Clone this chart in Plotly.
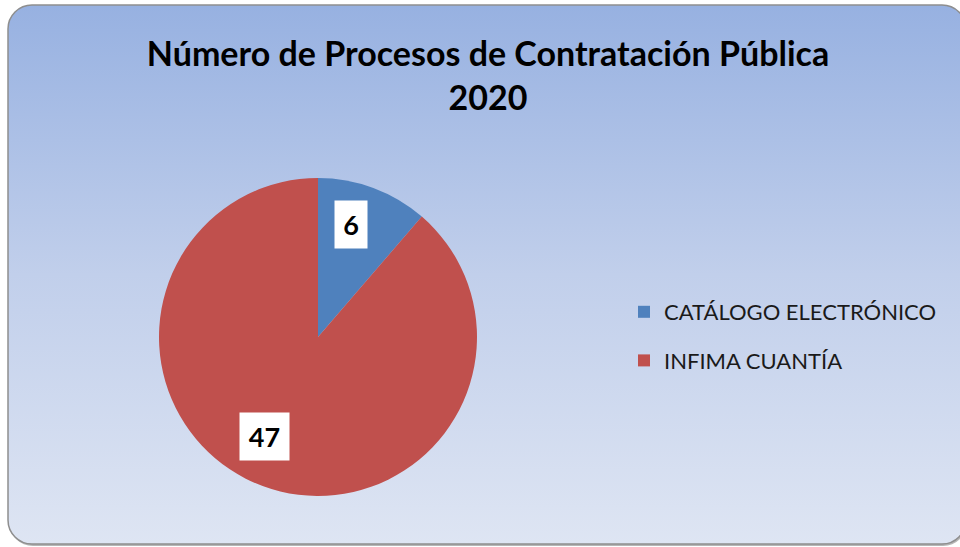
import base64, math
import plotly.graph_objects as go

categories = ["CATÁLOGO ELECTRÓNICO", "INFIMA CUANTÍA"]
values = [6, 47]
colors = ["#4F81BD", "#C0504D"]
title_lines = ["Número de Procesos de Contratación Pública", "2020"]

W, H = 960, 547

svg = f'''<svg xmlns="http://www.w3.org/2000/svg" width="{W}" height="{H}" viewBox="0 0 {W} {H}">
<defs>
<linearGradient id="g" x1="0" y1="0" x2="0" y2="1">
<stop offset="0" stop-color="#97B1E1"/>
<stop offset="0.5" stop-color="#C1CFEB"/>
<stop offset="1" stop-color="#DEE5F3"/>
</linearGradient>
</defs>
<rect x="0" y="0" width="{W}" height="{H}" fill="#ffffff"/>
<rect x="9" y="7" width="958" height="539" rx="24" ry="24" fill="#7a7a7a" opacity="0.55"/>
<rect x="8" y="5" width="958" height="539" rx="24" ry="24" fill="url(#g)" stroke="#8e8e8e" stroke-width="1.5"/>
</svg>'''
src = "data:image/svg+xml;base64," + base64.b64encode(svg.encode()).decode()

# pie geometry (pixels)
pcx, pcy, R = 318, 337, 159
dom_x = [(pcx - R) / W, (pcx + R) / W]
dom_y = [(H - pcy - R) / H, (H - pcy + R) / H]

fig = go.Figure()
fig.add_trace(go.Pie(
    labels=categories,
    values=values,
    marker=dict(colors=colors, line=dict(width=0)),
    sort=False, direction="clockwise", rotation=0,
    textinfo="none", hoverinfo="label+value",
    domain=dict(x=dom_x, y=dom_y),
    showlegend=False,
))

# legend entries (one per category, own group so spacing can be set)
for cat, col in zip(categories, colors):
    fig.add_trace(go.Scatter(
        x=[None], y=[None], mode="markers", name=cat, legendgroup=cat,
        marker=dict(symbol="square", size=12, color=col), hoverinfo="skip",
    ))

# data labels placed from the slice mid-angles
total = sum(values)
cum = 0
cxp = (dom_x[0] + dom_x[1]) / 2
cyp = (dom_y[0] + dom_y[1]) / 2
angle_shift = [-4, 8]     # degrees, label placement tweak
radius_frac = [0.74, 0.71]
box_w = {1: 32, 2: 49}
annotations = []
for i, v in enumerate(values):
    mid = (cum + v / 2) / total * 2 * math.pi + math.radians(angle_shift[i])
    cum += v
    ax = cxp + radius_frac[i] * R * math.sin(mid) / W
    ay = cyp + radius_frac[i] * R * math.cos(mid) / H
    annotations.append(dict(
        x=ax, y=ay, xref="paper", yref="paper", text=f"<b>{v}</b>",
        showarrow=False, bgcolor="white", borderpad=0,
        width=box_w[len(str(v))], height=47,
        font=dict(family="Lato", size=27, color="black"),
        xanchor="center", yanchor="middle",
    ))

fig.update_layout(
    width=W, height=H,
    margin=dict(l=0, r=0, t=0, b=0),
    paper_bgcolor="white", plot_bgcolor="rgba(0,0,0,0)",
    xaxis=dict(visible=False), yaxis=dict(visible=False),
    images=[dict(source=src, xref="paper", yref="paper", x=0, y=1, sizex=1, sizey=1,
                 xanchor="left", yanchor="top", sizing="stretch", layer="below")],
    title=dict(text="<b>" + "<br>".join(title_lines) + "</b>",
               x=488 / W, xanchor="center", y=1 - 66 / H, yanchor="middle", yref="container",
               font=dict(family="Lato", size=34, color="black")),
    legend=dict(x=624 / W, xanchor="left", y=1 - 291 / H, yanchor="top",
                tracegroupgap=17, font=dict(family="Lato", size=22, color="#1a1a1a"),
                bgcolor="rgba(0,0,0,0)"),
    annotations=annotations,
    showlegend=True,
)

fig.write_html("out.html", config={"displayModeBar": False},
               post_script="document.body.style.margin='0';")
